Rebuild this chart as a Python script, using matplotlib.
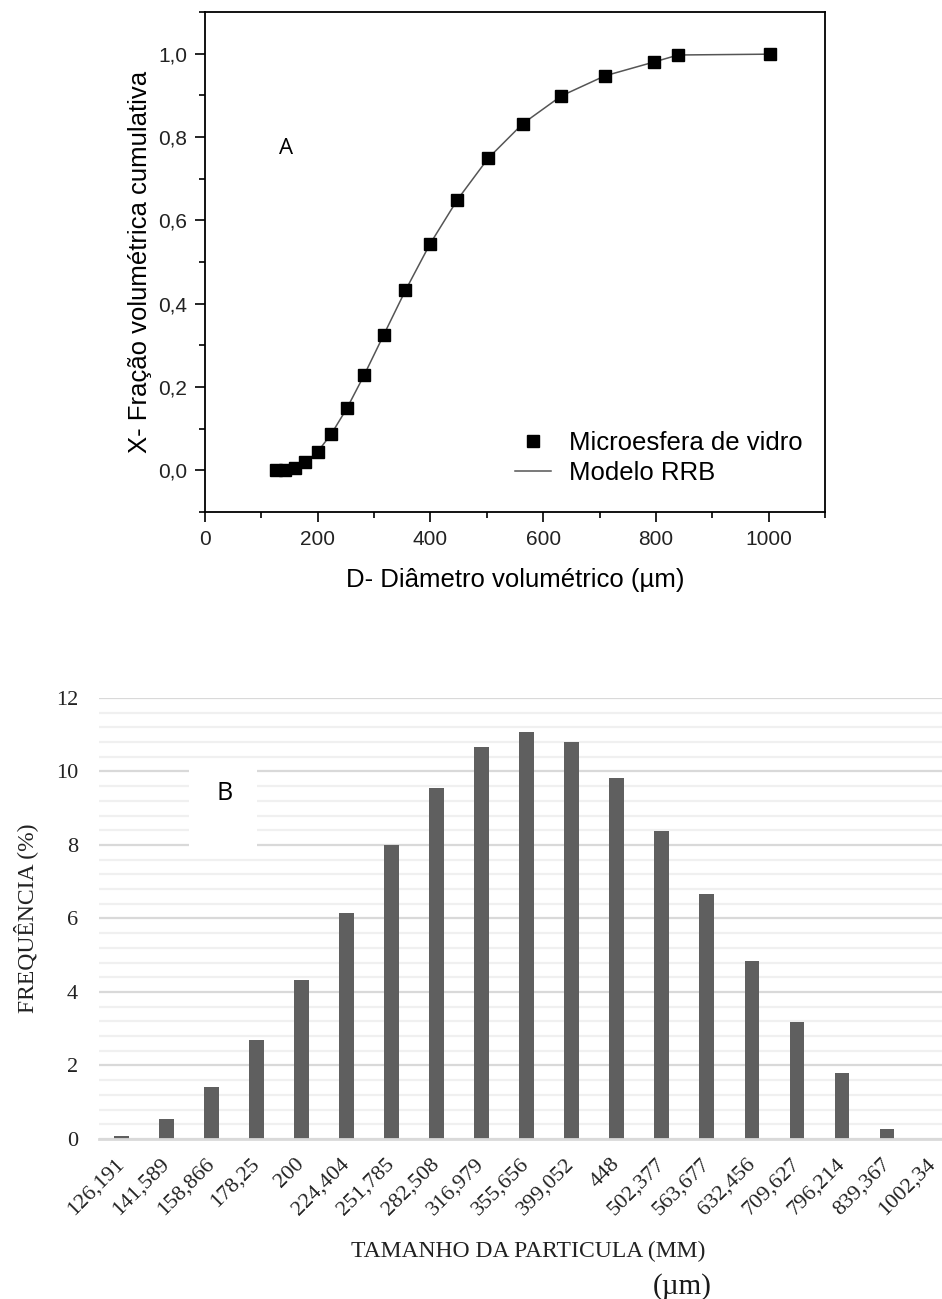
import numpy as np
import matplotlib
matplotlib.use('Agg')
from matplotlib import pyplot as plt
from matplotlib.ticker import MultipleLocator, FuncFormatter
from matplotlib.patches import Rectangle

#%% Data
# particle diameters (um), shared by both panels
diam = [126.191, 141.589, 158.866, 178.25, 200, 224.404, 251.785, 282.508,
        316.979, 355.656, 399.052, 448, 502.377, 563.677, 632.456, 709.627,
        796.214, 839.367, 1002.34]
diam_labels = ['126,191', '141,589', '158,866', '178,25', '200', '224,404',
               '251,785', '282,508', '316,979', '355,656', '399,052', '448',
               '502,377', '563,677', '632,456', '709,627', '796,214',
               '839,367', '1002,34']
# cumulative volume fraction (panel A)
cumfrac = [0.0, 0.0, 0.005, 0.02, 0.045, 0.088, 0.149, 0.229, 0.325, 0.432,
           0.543, 0.650, 0.749, 0.832, 0.899, 0.947, 0.980, 0.997, 0.999]
# frequency % (panel B)
freq = [0.07, 0.54, 1.41, 2.68, 4.33, 6.14, 8.01, 9.56, 10.66, 11.07, 10.79,
        9.83, 8.38, 6.66, 4.84, 3.19, 1.80, 0.26, 0.0]

comma = FuncFormatter(lambda v, p: ('%.1f' % v).replace('.', ','))

fig = plt.figure(figsize=(9.42, 12.99), dpi=100)

#%% Panel A
ax1 = fig.add_axes([0.2176, 0.6058, 0.6582, 0.3849])
sans = 'Liberation Sans'
ax1.plot(diam, cumfrac, '-', color='#555555', lw=1.1, label='Modelo RRB', zorder=2)
ax1.plot(diam, cumfrac, 's', color='black', ms=8.5, label='Microesfera de vidro', zorder=3)
ax1.set_xlim(0, 1100)
ax1.set_ylim(-0.1, 1.1)
ax1.xaxis.set_major_locator(MultipleLocator(200))
ax1.xaxis.set_minor_locator(MultipleLocator(100))
ax1.yaxis.set_minor_locator(MultipleLocator(0.1))
ax1.set_yticks(np.arange(0, 1.01, 0.2))
ax1.yaxis.set_major_formatter(comma)
ax1.tick_params(which='major', direction='out', length=7, width=1.2, pad=6,
                labelsize=15, labelcolor='#222222')
ax1.tick_params(which='minor', direction='out', length=4, width=1.2)
for lab in ax1.get_xticklabels() + ax1.get_yticklabels():
    lab.set_fontfamily(sans)
for s in ax1.spines.values():
    s.set_linewidth(1.3)
ax1.set_xlabel('D- Diâmetro volumétrico (µm)', fontsize=18.5, family=sans)
ax1.set_ylabel('X- Fração volumétrica cumulativa', fontsize=18.5, family=sans)
ax1.xaxis.set_label_coords(0.5, -0.111)
ax1.yaxis.set_label_coords(-0.085, 0.5)
ax1.text(144, 0.773, 'A', fontsize=16, family='Open Sans', ha='center', va='center')
h, l = ax1.get_legend_handles_labels()
ax1.legend(h[::-1], l[::-1], loc='lower left', bbox_to_anchor=(0.5, 0.055),
           frameon=False, prop={'family': sans, 'size': 18.5}, borderpad=0,
           borderaxespad=0, handlelength=1.4, handletextpad=0.7, labelspacing=0.2)

#%% Panel B
serif = 'Liberation Serif'
ax2 = fig.add_axes([0.105, 0.1232, 0.895, 0.3395])
pos = np.arange(len(freq))
ax2.bar(pos, freq, width=0.33, color='#5f5f5f', zorder=2)
ax2.set_xlim(-0.5, len(freq) - 1 + 0.22)
ax2.set_ylim(0, 12)
ax2.set_yticks(np.arange(0, 13, 2))
ax2.yaxis.set_minor_locator(MultipleLocator(0.4))
ax2.set_axisbelow(True)
ax2.grid(axis='y', which='major', color='#d9d9d9', lw=1.6)
ax2.grid(axis='y', which='minor', color='#f0f0f0', lw=1.6)
for s in ['left', 'right', 'top']:
    ax2.spines[s].set_visible(False)
ax2.spines['bottom'].set_color('#d9d9d9')
ax2.spines['bottom'].set_linewidth(2)
ax2.tick_params(which='both', length=0)
ax2.tick_params(axis='y', pad=15, labelsize=16, labelcolor='#222222')
ax2.set_xticks(pos)
ax2.set_xticklabels(diam_labels, rotation=45, ha='right', va='center',
                    rotation_mode='anchor', fontsize=16, family=serif, color='#222222')
ax2.tick_params(axis='x', pad=16)
for lab in ax2.get_yticklabels():
    lab.set_fontfamily(serif)
ax2.set_ylabel('FREQUÊNCIA (%)', fontsize=17, family=serif, color='#222222')
ax2.set_xlabel('TAMANHO DA PARTICULA (MM)', fontsize=17, family=serif, color='#222222')
ax2.yaxis.set_label_coords(-0.072, 0.5)
ax2.xaxis.set_label_coords(0.509, -0.23)
# white patch behind the panel letter
ax2.add_patch(Rectangle((1.51, 7.92), 1.49, 2.34, facecolor='white',
                        edgecolor='none', zorder=1))
ax2.text(2.29, 9.41, 'B', fontsize=18, family='Open Sans', ha='center', va='center', zorder=3)
fig.text(682 / 942, 1 - 1287 / 1299, '(µm)', fontsize=21, family=serif,
         ha='center', va='center', color='#1a1a1a')

fig.savefig('out.png', dpi=100)
